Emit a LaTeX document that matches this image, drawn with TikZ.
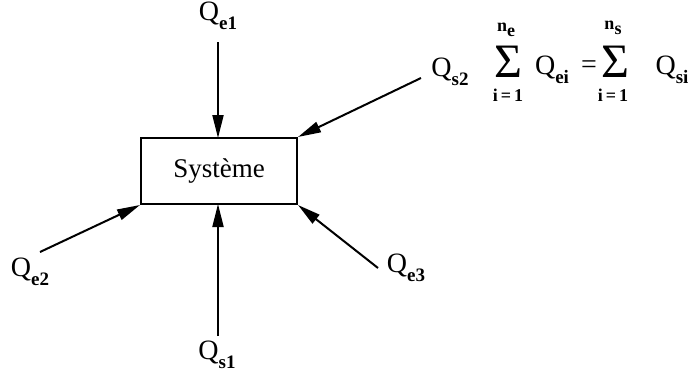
\documentclass[tikz,border=0pt]{standalone}
\usepackage{fontspec}
\setmainfont{Liberation Serif}
\usetikzlibrary{arrows.meta}
\newcommand{\Qlab}[1]{Q\raisebox{-0.3em}{\fontsize{19}{19}\selectfont\bfseries #1}}
\begin{document}
\begin{tikzpicture}[x=1pt,y=-1pt,
  flow/.style={line width=2pt,-{Triangle[length=23pt,width=11pt]}},
  lab/.style={font=\fontsize{28}{28}\selectfont,inner sep=0pt},
  lim/.style={font=\fontsize{18}{18}\selectfont\bfseries,inner sep=0pt},
  sig/.style={font=\fontsize{48}{48}\selectfont,inner sep=0pt}]
\useasboundingbox (0,0) rectangle (691,372);
\node[draw,line width=2pt,minimum width=156pt,minimum height=66pt,inner sep=0pt,font=\fontsize{27}{27}\selectfont] (sys) at (219,171) {Système};
\coordinate (top) at (218,138);
\coordinate (bot) at (218,204);
\node[lab] (qe1) at (218,16) {\Qlab{e1}};
\node[lab] (qs2) at (450,72) {\Qlab{s2}};
\node[lab] (qe2) at (30,272) {\Qlab{e2}};
\node[lab] (qe3) at (406,268) {\Qlab{e3}};
\node[lab] (qs1) at (217,355) {\Qlab{s1}};
\coordinate (t1) at (218,42);
\coordinate (t2) at (421,78);
\coordinate (t3) at (40,252);
\coordinate (t4) at (378,268);
\coordinate (t5) at (218,336);
\draw[flow] (t1) -- (top);
\draw[flow] (t2) -- (sys.north east);
\draw[flow] (t3) -- (sys.south west);
\draw[flow] (t4) -- (sys.south east);
\draw[flow] (t5) -- (bot);
% equation
\node[sig] (s1) at (508,62) {Σ};
\node[lim] (ne) at (506,30) {n\raisebox{-0.25em}{e}};
\node[lim] (i1) at (508,95) {i\,=\,1};
\node[lab] (qei) at (552,70) {\Qlab{ei}};
\node[lab] (eq) at (589,67) {=};
\node[sig] (s2) at (615,62) {Σ};
\node[lim] (ns) at (613,28) {n\raisebox{-0.25em}{s}};
\node[lim] (i2) at (613,95) {i\,=\,1};
\node[lab] (qsi) at (672,70) {\Qlab{si}};
\end{tikzpicture}
\end{document}
